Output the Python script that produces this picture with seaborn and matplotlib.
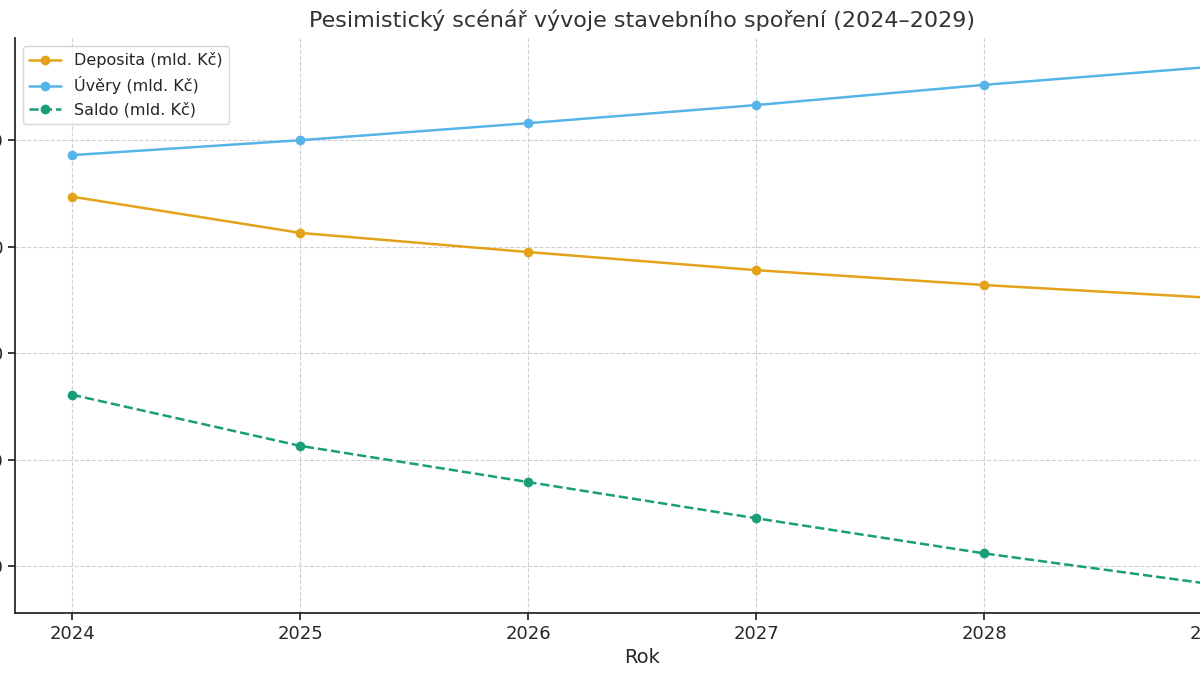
import matplotlib
matplotlib.use('Agg')
import matplotlib.pyplot as plt
import seaborn as sns
import pandas as pd

years = [2024, 2025, 2026, 2027, 2028, 2029]
deposita = [14.7, 11.3, 9.5, 7.8, 6.4, 5.2]
uvery = [18.6, 20.0, 21.6, 23.3, 25.2, 26.9]
saldo = [d - u for d, u in zip(deposita, uvery)]

df = pd.DataFrame({'Rok': years, 'Deposita': deposita, 'Uvery': uvery, 'Saldo': saldo})

sns.set_theme(style='white')
plt.rcParams['font.family'] = ['DejaVu Sans']

fig = plt.figure(figsize=(12, 6.75), dpi=100)
# axes stretches past the right edge of the figure (cropped look)
ax = fig.add_axes([15/1200, 1 - 613/675, 1254/1200, (613-38)/675])

sns.lineplot(data=df, x='Rok', y='Deposita', ax=ax, color='#E3A21A', marker='o',
             markersize=7, markeredgewidth=0, linewidth=1.8, label='Deposita (mld. Kč)')
sns.lineplot(data=df, x='Rok', y='Uvery', ax=ax, color='#56B4E9', marker='o',
             markersize=7, markeredgewidth=0, linewidth=1.8, label='Úvěry (mld. Kč)')
sns.lineplot(data=df, x='Rok', y='Saldo', ax=ax, color='#1A9E77', marker='o',
             markersize=7, markeredgewidth=0, linewidth=1.8, linestyle='--', label='Saldo (mld. Kč)')

ax.set_xlim(2023.75, 2029.25)
ax.set_ylim(-24.4, 29.6)
ax.set_xticks(years)
ax.set_yticks([-20, -10, 0, 10, 20])
ax.tick_params(labelsize=13, length=5, left=True, bottom=True)
ax.grid(True, linestyle='--', color='#d0d0d0', linewidth=0.8)
for s in ['top', 'right']:
    ax.spines[s].set_visible(False)
for s in ['left', 'bottom']:
    ax.spines[s].set_color('#222222')
ax.set_xlabel('Rok', fontsize=14)
ax.set_ylabel('')
ax.set_title('Pesimistický scénář vývoje stavebního spoření (2024–2029)', fontsize=16, color='#333333', pad=8)
ax.legend(loc='upper left', fontsize=11.5, frameon=True)

fig.savefig('out.png', dpi=100)
